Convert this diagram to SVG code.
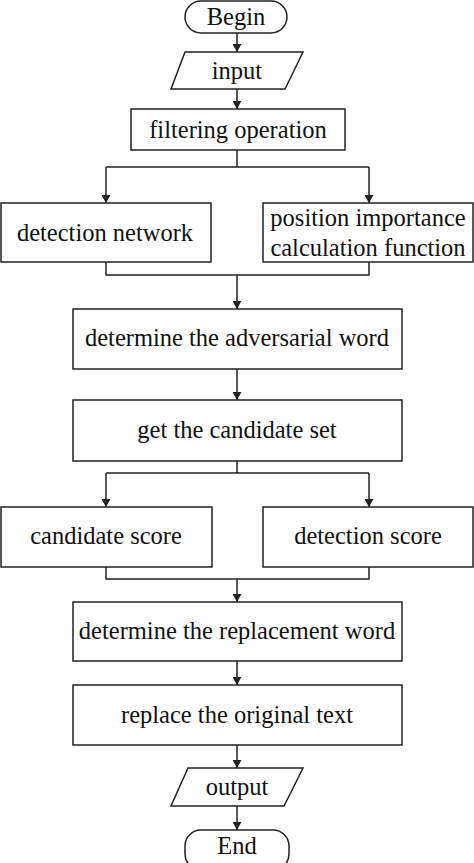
<svg xmlns="http://www.w3.org/2000/svg" width="474" height="863" viewBox="0 0 474 863">
<style>
.n{fill:#fff;stroke:#222;stroke-width:1.5}
.c{fill:none;stroke:#222;stroke-width:1.5}
</style>
<defs>
<marker id="a" markerWidth="8" markerHeight="9" refX="8" refY="4.5" orient="auto" markerUnits="userSpaceOnUse">
<path d="M0,0 L8,4.5 L0,9 Z" fill="#222"/>
</marker>
</defs>
<rect width="474" height="863" fill="#fff"/>
<g id="connectors">
<path class="c" d="M237,33 V52" marker-end="url(#a)"/>
<path class="c" d="M237,89 V109" marker-end="url(#a)"/>
<path class="c" d="M237,150 V167"/>
<path class="c" d="M106,167 H369"/>
<path class="c" d="M106,167 V203" marker-end="url(#a)"/>
<path class="c" d="M369,167 V203" marker-end="url(#a)"/>
<path class="c" d="M106,262 V275 H369 V262"/>
<path class="c" d="M237,275 V309" marker-end="url(#a)"/>
<path class="c" d="M237,369 V400" marker-end="url(#a)"/>
<path class="c" d="M237,461 V473"/>
<path class="c" d="M106,473 H369"/>
<path class="c" d="M106,473 V507" marker-end="url(#a)"/>
<path class="c" d="M369,473 V507" marker-end="url(#a)"/>
<path class="c" d="M106,567 V579 H369 V567"/>
<path class="c" d="M237,579 V602" marker-end="url(#a)"/>
<path class="c" d="M237,661 V685" marker-end="url(#a)"/>
<path class="c" d="M237,745 V768" marker-end="url(#a)"/>
<path class="c" d="M237,806 V830" marker-end="url(#a)"/>
</g>
<g font-family="Liberation Serif" font-size="24.5" fill="#111" text-anchor="middle">
<g id="begin">
<rect class="n" x="185" y="1" width="102" height="32" rx="16"/>
<text x="236" y="25" font-family="Liberation Serif" font-size="24.5">Begin</text>
</g>
<g id="input">
<polygon class="n" points="185,52 303,52 285,89 171,89"/>
<text x="237" y="79" font-family="Liberation Serif" font-size="24.5">input</text>
</g>
<g id="filtering">
<rect class="n" x="131" y="109" width="214" height="41"/>
<text x="238" y="138" font-family="Liberation Serif" font-size="24.5">filtering operation</text>
</g>
<g id="detection-network">
<rect class="n" x="1" y="203" width="210" height="59"/>
<text x="105" y="241" font-family="Liberation Serif" font-size="24.5">detection network</text>
</g>
<g id="position-importance">
<rect class="n" x="263" y="203" width="210" height="59"/>
<text x="368" y="226" font-family="Liberation Serif" font-size="24.5">position importance</text>
<text x="368" y="256" font-family="Liberation Serif" font-size="24.5">calculation function</text>
</g>
<g id="adversarial">
<rect class="n" x="73" y="309" width="329" height="60"/>
<text x="237" y="346" font-family="Liberation Serif" font-size="24.5">determine the adversarial word</text>
</g>
<g id="candidate-set">
<rect class="n" x="73" y="400" width="329" height="61"/>
<text x="237" y="438" font-family="Liberation Serif" font-size="24.5">get the candidate set</text>
</g>
<g id="candidate-score">
<rect class="n" x="1" y="507" width="211" height="60"/>
<text x="106" y="544" font-family="Liberation Serif" font-size="24.5">candidate score</text>
</g>
<g id="detection-score">
<rect class="n" x="263" y="507" width="210" height="60"/>
<text x="368" y="544" font-family="Liberation Serif" font-size="24.5">detection score</text>
</g>
<g id="replacement">
<rect class="n" x="73" y="602" width="329" height="59"/>
<text x="237" y="639" font-family="Liberation Serif" font-size="24.5">determine the replacement word</text>
</g>
<g id="replace">
<rect class="n" x="73" y="685" width="329" height="60"/>
<text x="237" y="723" font-family="Liberation Serif" font-size="24.5">replace the original text</text>
</g>
<g id="output">
<polygon class="n" points="188,768 303,768 284,806 171,806"/>
<text x="237" y="795" font-family="Liberation Serif" font-size="24.5">output</text>
</g>
<g id="end">
<rect class="n" x="185" y="830" width="104" height="40" rx="16"/>
<text x="237" y="854" font-family="Liberation Serif" font-size="24.5">End</text>
</g>
</g>
</svg>
